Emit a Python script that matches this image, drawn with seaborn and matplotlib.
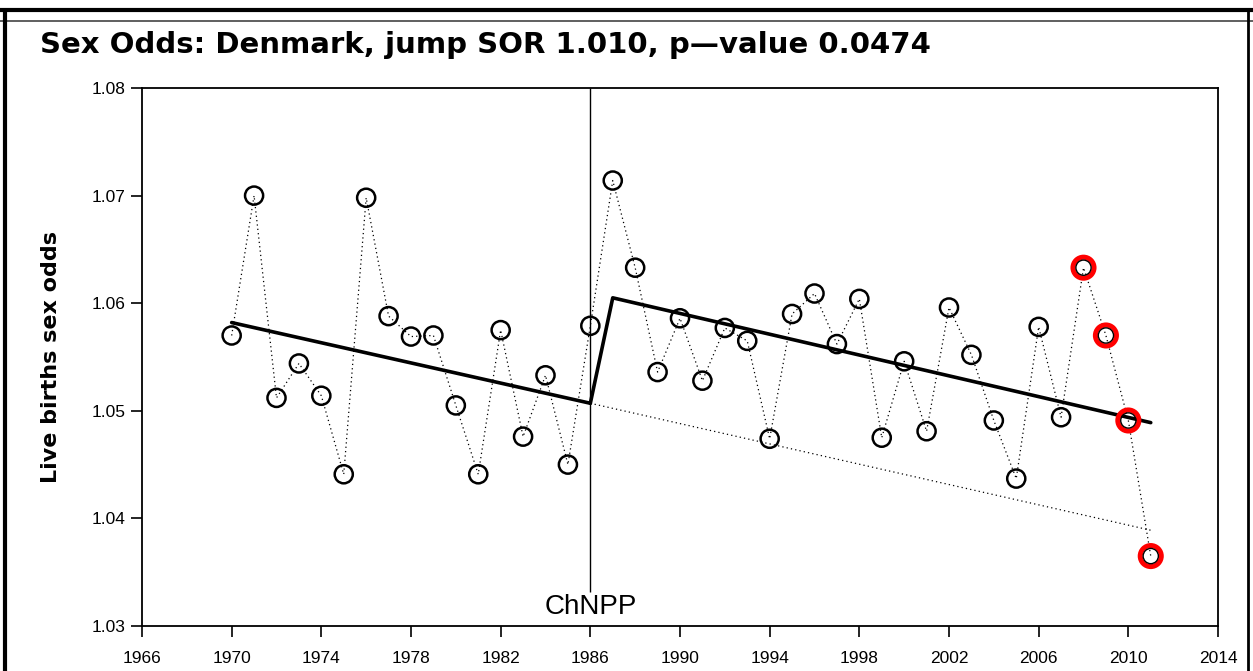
import matplotlib
matplotlib.use("Agg")
import matplotlib.pyplot as plt
import seaborn as sns
import pandas as pd
from matplotlib.lines import Line2D

years = list(range(1970, 2012))
odds = [1.0570, 1.0700, 1.0512, 1.0544, 1.0514, 1.0441, 1.0698, 1.0588, 1.0569, 1.0570,
        1.0505, 1.0441, 1.0575, 1.0476, 1.0533, 1.0450, 1.0579, 1.0714, 1.0633, 1.0536,
        1.0586, 1.0528, 1.0577, 1.0565, 1.0474, 1.0590, 1.0609, 1.0562, 1.0604, 1.0475,
        1.0546, 1.0481, 1.0596, 1.0552, 1.0491, 1.0437, 1.0578, 1.0494, 1.0633, 1.0570,
        1.0491, 1.0365]
highlight_years = [2008, 2009, 2010, 2011]

trend_pre_x = [1970, 1986]
trend_pre_y = [1.0582, 1.0507]
trend_post_x = [1986, 1987, 2011]
trend_post_y = [1.0507, 1.0605, 1.0489]
counterfactual_x = [1986, 2011]
counterfactual_y = [1.0507, 1.0389]

xticks = list(range(1966, 2015, 4))
yticks = [1.03, 1.04, 1.05, 1.06, 1.07, 1.08]

df = pd.DataFrame({"year": years, "odds": odds})
df["hl"] = df["year"].isin(highlight_years)

sns.set_theme(style="white")
plt.rcParams['font.family'] = ['Liberation Sans', 'DejaVu Sans']
plt.rcParams['text.color'] = 'black'
plt.rcParams['xtick.color'] = 'black'
plt.rcParams['ytick.color'] = 'black'
plt.rcParams['axes.labelcolor'] = 'black'

fig = plt.figure(figsize=(12.53, 6.71), dpi=100)
ax = fig.add_axes([142/1253, 1-626/671, (1218-142)/1253, (626-88)/671])

sns.lineplot(data=df, x="year", y="odds", ax=ax, color="black", linewidth=0.9,
             linestyle=(0, (1, 2.5)), zorder=2)
sns.lineplot(x=trend_pre_x, y=trend_pre_y, ax=ax, color="black", linewidth=2.6, zorder=3)
sns.lineplot(x=trend_post_x, y=trend_post_y, ax=ax, color="black", linewidth=2.6, zorder=3)
sns.lineplot(x=counterfactual_x, y=counterfactual_y, ax=ax, color="black", linewidth=0.9,
             linestyle=(0, (1, 2.5)), zorder=2)

normal = df[~df["hl"]]
hl = df[df["hl"]]
ax.scatter(normal["year"], normal["odds"], s=170, facecolors="none", edgecolors="black",
           linewidths=1.8, zorder=4)
ax.scatter(hl["year"], hl["odds"], s=230, facecolors="none", edgecolors="red",
           linewidths=3.6, zorder=4)
ax.scatter(hl["year"], hl["odds"], s=120, facecolors="none", edgecolors="black",
           linewidths=1.0, zorder=5)

ax.vlines(1986, 1.0332, 1.08, color="black", linewidth=1.0, zorder=1)
ax.text(1986, 1.0306, "ChNPP", ha="center", va="bottom", fontsize=20, color="black")

ax.set_xlim(1966, 2014)
ax.set_ylim(1.03, 1.08)
ax.set_xticks(xticks)
ax.set_xticklabels([str(t) for t in xticks], fontsize=12.5)
ax.set_yticks(yticks)
ax.set_yticklabels([f"{t:.2f}" for t in yticks], fontsize=12.5)
ax.tick_params(axis="both", direction="out", length=8, width=1.2, color="black",
               bottom=True, left=True)
ax.tick_params(axis="x", pad=10)
ax.tick_params(axis="y", pad=4)
for s in ax.spines.values():
    s.set_color("black")
    s.set_linewidth(1.3)
ax.set_xlabel("")
ax.set_ylabel("Live births sex odds", fontsize=16, fontweight="bold", labelpad=22,
              family=["DejaVu Sans"])

fig.text(40/1253, 1-45/671, "Sex Odds: Denmark, jump SOR 1.010, p\u2014value 0.0474",
         fontsize=21, fontweight="bold", ha="left", va="center", family=["DejaVu Sans"])

# figure frame
fig.add_artist(Line2D([0, 1], [1-10/671, 1-10/671], transform=fig.transFigure, color="black", linewidth=3))
fig.add_artist(Line2D([0, 1], [1-21/671, 1-21/671], transform=fig.transFigure, color="#444444", linewidth=1.2))
fig.add_artist(Line2D([5/1253, 5/1253], [0, 1-10/671], transform=fig.transFigure, color="black", linewidth=3))
fig.add_artist(Line2D([1248/1253, 1248/1253], [0, 1-10/671], transform=fig.transFigure, color="black", linewidth=2))

fig.savefig("out.png", dpi=100)
